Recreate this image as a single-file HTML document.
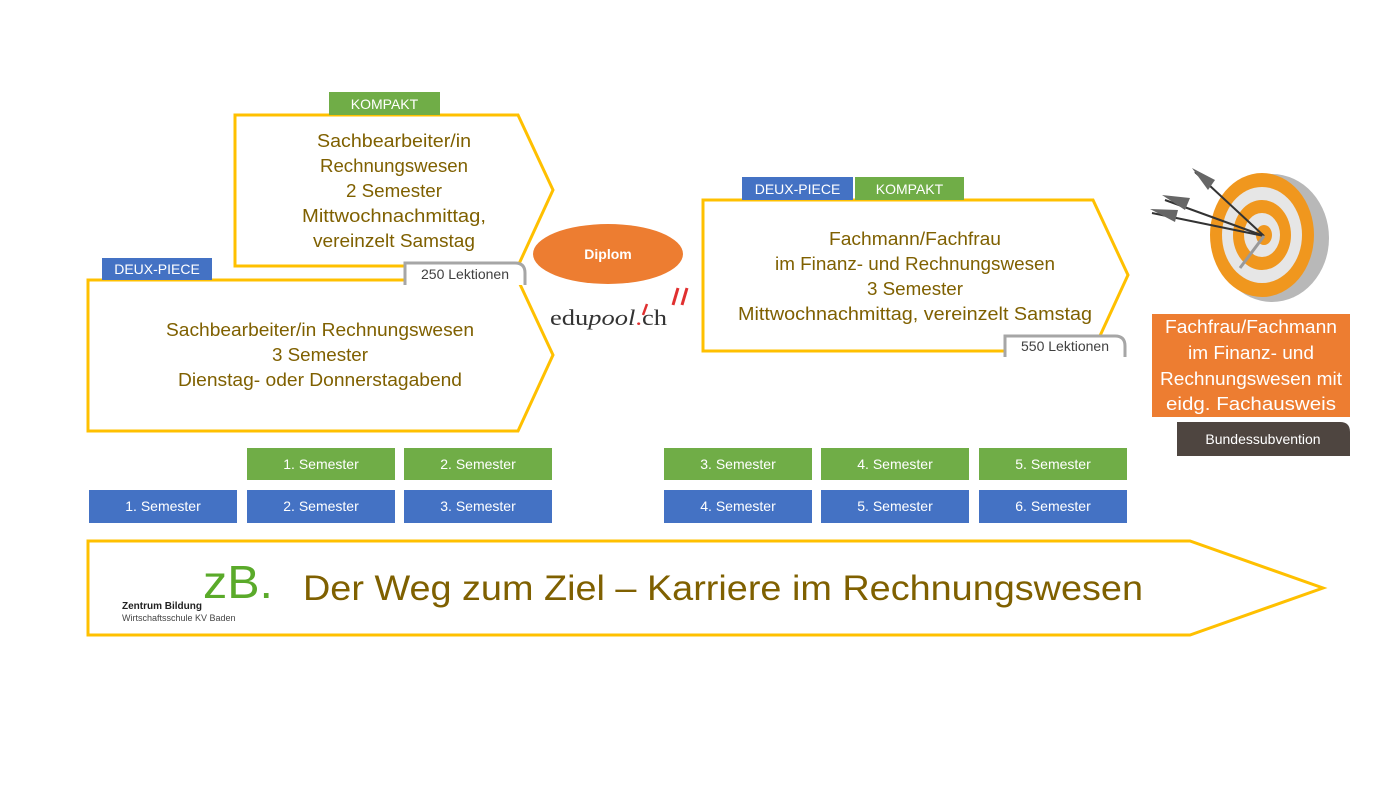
<!DOCTYPE html>
<html><head><meta charset="utf-8"><style>
html,body{margin:0;padding:0;background:#fff;}
svg{display:block;}
text{font-family:"Liberation Sans",sans-serif;}
</style></head><body>
<svg width="1396" height="786" viewBox="0 0 1396 786" xmlns="http://www.w3.org/2000/svg">
<polygon points="235,115 518,115 553,190 518,266 235,266" fill="#fff" stroke="#FFC000" stroke-width="3"/>
<rect x="329" y="92" width="111" height="23" fill="#70AD47"/>
<text x="384.5" y="109" font-size="14" fill="#fff" text-anchor="middle">KOMPAKT</text>
<g fill="#7F6000" font-size="18" text-anchor="middle">
<text x="394" y="147" textLength="154" lengthAdjust="spacingAndGlyphs">Sachbearbeiter/in</text>
<text x="394" y="172" textLength="148" lengthAdjust="spacingAndGlyphs">Rechnungswesen</text>
<text x="394" y="197" textLength="96" lengthAdjust="spacingAndGlyphs">2 Semester</text>
<text x="394" y="222" textLength="184" lengthAdjust="spacingAndGlyphs">Mittwochnachmittag,</text>
<text x="394" y="247" textLength="162" lengthAdjust="spacingAndGlyphs">vereinzelt Samstag</text>
</g>
<polygon points="88,280 518,280 553,355 518,431 88,431" fill="#fff" stroke="#FFC000" stroke-width="3"/>
<rect x="102" y="258" width="110" height="22" fill="#4472C4"/>
<text x="157" y="274" font-size="14" fill="#fff" text-anchor="middle">DEUX-PIECE</text>
<path d="M405,285 V263 H515 Q525,263 525,273 V285" fill="#fff" stroke="#A6A6A6" stroke-width="3"/>
<text x="465" y="279" font-size="14" fill="#404040" text-anchor="middle">250 Lektionen</text>
<g fill="#7F6000" font-size="18" text-anchor="middle">
<text x="320" y="336" textLength="308" lengthAdjust="spacingAndGlyphs">Sachbearbeiter/in Rechnungswesen</text>
<text x="320" y="361" textLength="96" lengthAdjust="spacingAndGlyphs">3 Semester</text>
<text x="320" y="386" textLength="284" lengthAdjust="spacingAndGlyphs">Dienstag- oder Donnerstagabend</text>
</g>
<ellipse cx="608" cy="254" rx="75" ry="30" fill="#ED7D31"/>
<text x="608" y="259" font-size="14" font-weight="bold" fill="#fff" text-anchor="middle">Diplom</text>
<text x="550" y="325" style="font-family:'Liberation Serif',serif" font-size="22" fill="#333" textLength="117" lengthAdjust="spacingAndGlyphs">edu<tspan font-style="italic">pool</tspan><tspan fill="#E03030">.</tspan>ch</text>
<path d="M647,304 L643,315" stroke="#E03030" stroke-width="2.5"/>
<path d="M678,288 L673,305 M687,288 L682,305" stroke="#E03030" stroke-width="3"/>
<polygon points="703,200 1093,200 1128,275 1093,351 703,351" fill="#fff" stroke="#FFC000" stroke-width="3"/>
<rect x="742" y="177" width="111" height="23" fill="#4472C4"/>
<text x="797.5" y="194" font-size="14" fill="#fff" text-anchor="middle">DEUX-PIECE</text>
<rect x="855" y="177" width="109" height="23" fill="#70AD47"/>
<text x="909.5" y="194" font-size="14" fill="#fff" text-anchor="middle">KOMPAKT</text>
<g fill="#7F6000" font-size="18" text-anchor="middle">
<text x="915" y="245" textLength="172" lengthAdjust="spacingAndGlyphs">Fachmann/Fachfrau</text>
<text x="915" y="270" textLength="280" lengthAdjust="spacingAndGlyphs">im Finanz- und Rechnungswesen</text>
<text x="915" y="295" textLength="96" lengthAdjust="spacingAndGlyphs">3 Semester</text>
<text x="915" y="320" textLength="354" lengthAdjust="spacingAndGlyphs">Mittwochnachmittag, vereinzelt Samstag</text>
</g>
<path d="M1005,357 V336 H1115 Q1125,336 1125,346 V357" fill="#fff" stroke="#A6A6A6" stroke-width="3"/>
<text x="1065" y="351" font-size="14" fill="#404040" text-anchor="middle">550 Lektionen</text>
<ellipse cx="1272" cy="238" rx="57" ry="64" fill="#B8B8B8"/>
<ellipse cx="1262" cy="235" rx="52" ry="62" fill="#F0971E"/>
<ellipse cx="1262" cy="235" rx="40" ry="48" fill="#E6E6E6"/>
<ellipse cx="1262" cy="235" rx="29" ry="35" fill="#F0971E"/>
<ellipse cx="1262" cy="235" rx="18" ry="22" fill="#E6E6E6"/>
<ellipse cx="1264" cy="235" rx="8" ry="10" fill="#F0971E"/>
<g stroke="#333" stroke-width="2">
<line x1="1195" y1="172" x2="1264" y2="236"/>
<line x1="1165" y1="200" x2="1264" y2="236"/>
<line x1="1152" y1="213" x2="1264" y2="236"/>
</g>
<g fill="#666">
<polygon points="1192,168 1215,180 1208,190"/>
<polygon points="1162,195 1190,198 1185,210"/>
<polygon points="1150,209 1178,210 1175,222"/>
</g>
<line x1="1264" y1="236" x2="1240" y2="268" stroke="#999" stroke-width="3"/>
<rect x="1152" y="314" width="198" height="103" fill="#ED7D31"/>
<g fill="#fff" font-size="18" text-anchor="middle">
<text x="1251" y="333" textLength="172" lengthAdjust="spacingAndGlyphs">Fachfrau/Fachmann</text>
<text x="1251" y="359" textLength="126" lengthAdjust="spacingAndGlyphs">im Finanz- und</text>
<text x="1251" y="385" textLength="182" lengthAdjust="spacingAndGlyphs">Rechnungswesen mit</text>
<text x="1251" y="410" textLength="170" lengthAdjust="spacingAndGlyphs">eidg. Fachausweis</text>
</g>
<path d="M1177,422 H1340 Q1350,422 1350,432 V456 H1177 Z" fill="#4E4540"/>
<text x="1263" y="444" font-size="14" fill="#fff" text-anchor="middle">Bundessubvention</text>
<g font-size="14" fill="#fff" text-anchor="middle">
<rect x="247" y="448" width="148" height="32" fill="#70AD47"/><text x="321" y="469">1. Semester</text>
<rect x="404" y="448" width="148" height="32" fill="#70AD47"/><text x="478" y="469">2. Semester</text>
<rect x="664" y="448" width="148" height="32" fill="#70AD47"/><text x="738" y="469">3. Semester</text>
<rect x="821" y="448" width="148" height="32" fill="#70AD47"/><text x="895" y="469">4. Semester</text>
<rect x="979" y="448" width="148" height="32" fill="#70AD47"/><text x="1053" y="469">5. Semester</text>
<rect x="89" y="490" width="148" height="33" fill="#4472C4"/><text x="163" y="511">1. Semester</text>
<rect x="247" y="490" width="148" height="33" fill="#4472C4"/><text x="321" y="511">2. Semester</text>
<rect x="404" y="490" width="148" height="33" fill="#4472C4"/><text x="478" y="511">3. Semester</text>
<rect x="664" y="490" width="148" height="33" fill="#4472C4"/><text x="738" y="511">4. Semester</text>
<rect x="821" y="490" width="148" height="33" fill="#4472C4"/><text x="895" y="511">5. Semester</text>
<rect x="979" y="490" width="148" height="33" fill="#4472C4"/><text x="1053" y="511">6. Semester</text>
</g>
<polygon points="88,541 1190,541 1323,588 1190,635 88,635" fill="#fff" stroke="#FFC000" stroke-width="3"/>
<text x="203" y="598" font-size="46" fill="#5AAA2A" textLength="70" lengthAdjust="spacingAndGlyphs">zB.</text>
<text x="122" y="609" font-size="10" font-weight="bold" fill="#222">Zentrum Bildung</text>
<text x="122" y="621" font-size="9" fill="#444">Wirtschaftsschule KV Baden</text>
<text x="303" y="600" font-size="35" fill="#7F6000" textLength="840" lengthAdjust="spacingAndGlyphs">Der Weg zum Ziel – Karriere im Rechnungswesen</text>
</svg>
</body></html>
